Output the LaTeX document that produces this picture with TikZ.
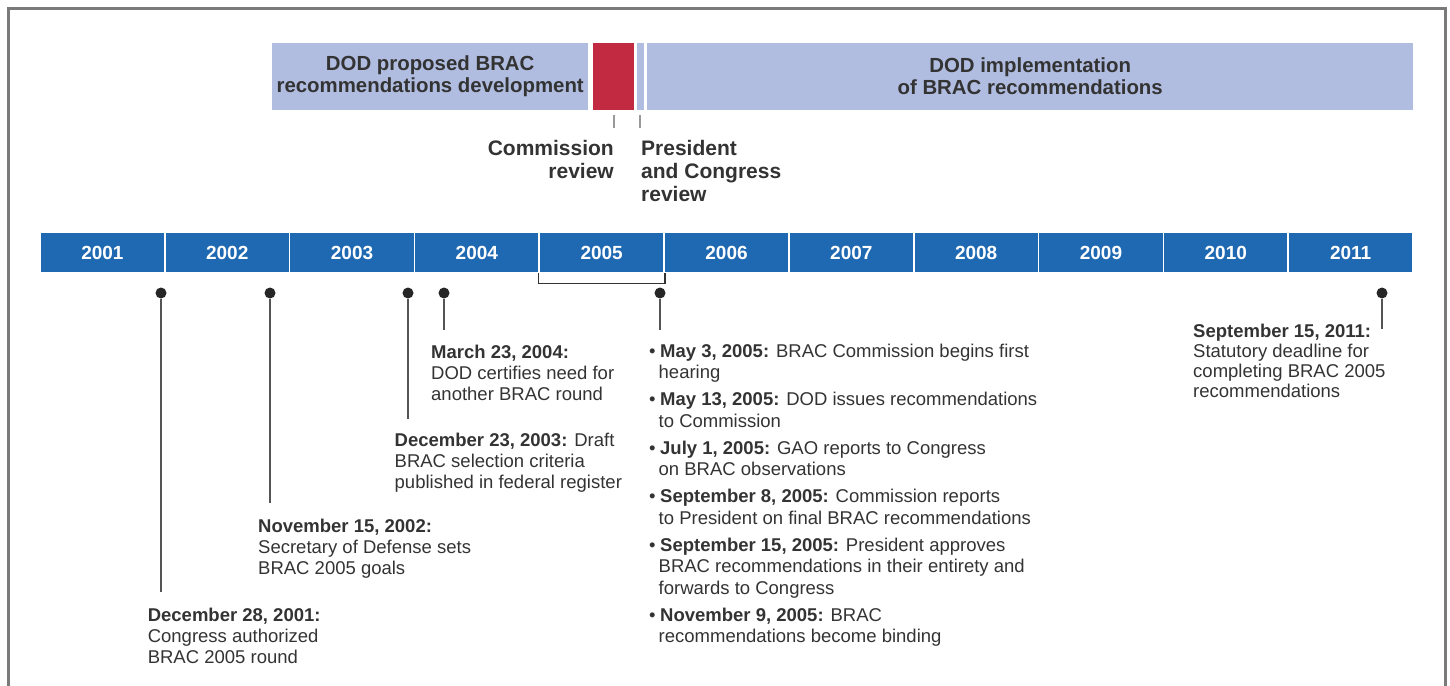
\documentclass[tikz,border=0pt]{standalone}
\usepackage{fontspec}
\setmainfont{Liberation Sans}
\definecolor{lb}{HTML}{B0BDE0}
\definecolor{rd}{HTML}{C12A40}
\definecolor{yb}{HTML}{1F69B3}
\definecolor{tx}{HTML}{333333}
\definecolor{fr}{HTML}{7A7A7A}
\definecolor{ln}{HTML}{555555}
\definecolor{tk}{HTML}{999999}
\newcommand\mybul{\makebox[11pt][l]{•}}
\newcommand\myind{\hspace*{9.5pt}}
\begin{document}
\begin{tikzpicture}[x=1pt,y=-1pt,
  phase/.style={fill=lb, inner sep=0, anchor=north west, align=center, text=tx,
    font=\fontsize{20.4}{22}\selectfont\bfseries},
  redbox/.style={fill=rd, inner sep=0, anchor=north west},
  lbl/.style={inner sep=0, text=tx, font=\fontsize{21}{23}\selectfont\bfseries},
  yearbox/.style={fill=yb, draw=white, line width=1.6pt, minimum width=124.8, minimum height=40,
    inner sep=0, text=white, font=\fontsize{19}{20}\selectfont\bfseries},
  dot/.style={circle, fill=black!85, inner sep=0, minimum size=11},
  conn/.style={draw=ln, line width=1.5pt},
  tick/.style={draw=tk, line width=1.3pt},
  evt/.style={inner sep=0, anchor=north west, align=left, text=tx,
    font=\fontsize{18.5}{21.3}\selectfont},
]
\useasboundingbox (0,0) rectangle (1450,685);
\draw[fr, line width=3pt] (8,690) -- (8,9) -- (1445,9) -- (1445,690);

% phase bars
\node[phase, minimum width=316, minimum height=67] (p1) at (272,43)
  {DOD proposed BRAC\\recommendations development};
\node[redbox, minimum width=41, minimum height=67] (p2) at (593,43) {};
\node[redbox, fill=lb, minimum width=7, minimum height=67] (p3) at (637,43) {};
\node[phase, minimum width=766, minimum height=67] (p4) at (647,43)
  {DOD implementation\\of BRAC recommendations};

% ticks below phases
\coordinate (ta1) at (614,115); \coordinate (tb1) at (614,128);
\coordinate (ta2) at (640,115); \coordinate (tb2) at (640,128);
\draw[tick] (ta1) -- (tb1);
\draw[tick] (ta2) -- (tb2);

\node[lbl, anchor=north east, align=right] (comm) at (614,140.5) {Commission\\review};
\node[lbl, anchor=north west, align=left] (pres) at (641,140.5) {President\\and Congress\\review};

% year bar
\foreach \yr [count=\i from 0] in {2001,...,2011} {
  \node[yearbox] (y\yr) at ({40+62.4+\i*124.82},252.5) {\yr};
}

% bracket under 2005
\draw[draw=black!80, line width=1.5pt] (y2005.south west) -- ++(0,10) -| (y2005.south east);

% event dots and connectors
\node[dot] (d1) at (161,293) {};
\node[dot] (d2) at (270,293) {};
\node[dot] (d3) at (408,293) {};
\node[dot] (d4) at (444,293) {};
\node[dot] (d5) at (660,293) {};
\node[dot] (d6) at (1382,293) {};
\coordinate (e1) at (161,592);
\coordinate (e2) at (270,503);
\coordinate (e3) at (408,419);
\coordinate (e4) at (444,330);
\coordinate (e5) at (660,330);
\coordinate (e6) at (1382,329);
\draw[conn] (d1) -- (e1);
\draw[conn] (d2) -- (e2);
\draw[conn] (d3) -- (e3);
\draw[conn] (d4) -- (e4);
\draw[conn] (d5) -- (e5);
\draw[conn] (d6) -- (e6);

% event texts
\node[evt] (t1) at (147.6,607.5) {\textbf{December 28, 2001:}\\Congress authorized\\BRAC 2005 round};
\node[evt] (t2) at (258,518.5) {\textbf{November 15, 2002:}\\Secretary of Defense sets\\BRAC 2005 goals};
\node[evt] (t3) at (394.5,432.5) {\textbf{December 23, 2003:} Draft\\BRAC selection criteria\\published in federal register};
\node[evt] (t4) at (431,344.5) {\textbf{March 23, 2004:}\\DOD certifies need for\\another BRAC round};
\node[evt, font=\fontsize{18.5}{20}\selectfont] (t6) at (1193,323.5) {\textbf{September 15, 2011:}\\Statutory deadline for\\completing BRAC 2005\\recommendations};
\node[evt] (t5) at (649,343.5) {\mybul\textbf{May 3, 2005:} BRAC Commission begins first\\\myind hearing\\[6pt]
\mybul\textbf{May 13, 2005:} DOD issues recommendations\\\myind to Commission\\[6pt]
\mybul\textbf{July 1, 2005:} GAO reports to Congress\\\myind on BRAC observations\\[6pt]
\mybul\textbf{September 8, 2005:} Commission reports\\\myind to President on final BRAC recommendations\\[6pt]
\mybul\textbf{September 15, 2005:} President approves\\\myind BRAC recommendations in their entirety and\\\myind forwards to Congress\\[6pt]
\mybul\textbf{November 9, 2005:} BRAC\\\myind recommendations become binding};
\end{tikzpicture}
\end{document}
